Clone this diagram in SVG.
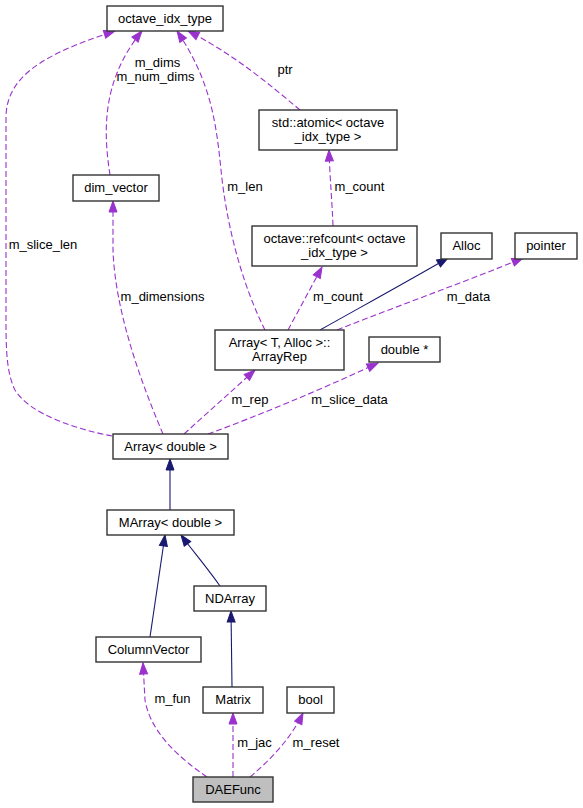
<svg xmlns="http://www.w3.org/2000/svg" width="583" height="808" viewBox="0 0 583 808">
<style>
  .n rect { fill: #ffffff; stroke: #333333; stroke-width: 1.4; }
  .n text, .lbl { font-family: "Liberation Sans", Arial, sans-serif; font-size: 13px; fill: #000000; }
  .n text { text-anchor: middle; }
  .lbl { text-anchor: middle; }
  .u { fill: none; stroke: #9a32cd; stroke-width: 1.1; stroke-dasharray: 6,3; }
  .i { fill: none; stroke: #191970; stroke-width: 1.1; }
  .u { marker-end: url(#ap); }
  .i { marker-end: url(#an); }
</style>
<defs>
  <marker id="ap" viewBox="0 0 12 9" markerWidth="12" markerHeight="9" refX="11" refY="4" orient="auto" markerUnits="userSpaceOnUse" overflow="visible">
    <path d="M0,0 L11,4 L0,8 z" fill="#9a32cd" stroke="#9a32cd" stroke-width="1" stroke-dasharray="none"/>
  </marker>
  <marker id="an" viewBox="0 0 12 9" markerWidth="12" markerHeight="9" refX="11" refY="4" orient="auto" markerUnits="userSpaceOnUse" overflow="visible">
    <path d="M0,0 L11,4 L0,8 z" fill="#191970" stroke="#191970" stroke-width="1" stroke-dasharray="none"/>
  </marker>
</defs>
<rect x="0" y="0" width="583" height="808" fill="#ffffff"/>

<g id="edges">
  <path class="u" d="M112,436 C80,430 30,415 15,390 C5,370 6,340 6,300 L6,118 C6,78 40,55 115,31"/>
  <path class="u" d="M110,175 C103,130 102,80 142,31"/>
  <path class="u" d="M265,330 C240,280 226,220 221,170 C216,120 210,80 177,31"/>
  <path class="u" d="M300,110 C270,85 235,55 188,31"/>
  <path class="u" d="M333,226 C332,200 330,180 329,150"/>
  <path class="u" d="M288,330 L322,267"/>
  <path class="i" d="M320,330 C370,302 410,280 448,258"/>
  <path class="u" d="M337,330 C400,305 470,280 523,258"/>
  <path class="u" d="M163,434 C140,380 115,310 113,250 L113,201"/>
  <path class="u" d="M184,434 L255,370"/>
  <path class="u" d="M208,434 C260,415 320,390 378,363"/>
  <path class="i" d="M170,510 L170,459"/>
  <path class="i" d="M150,637 L165,535"/>
  <path class="i" d="M220,586 C205,565 192,550 181,535"/>
  <path class="i" d="M232,687 L231,611"/>
  <path class="u" d="M207,777 C175,755 150,730 145,700 L143,663"/>
  <path class="u" d="M233,777 L233,713"/>
  <path class="u" d="M250,777 C270,760 290,740 303,713"/>
  <text class="lbl" x="157.5" y="67">m_dims</text>
  <text class="lbl" x="155.5" y="81">m_num_dims</text>
  <text class="lbl" x="285" y="74">ptr</text>
  <text class="lbl" x="245" y="191">m_len</text>
  <text class="lbl" x="43" y="249">m_slice_len</text>
  <text class="lbl" x="359.5" y="191">m_count</text>
  <text class="lbl" x="338" y="301">m_count</text>
  <text class="lbl" x="468.5" y="301">m_data</text>
  <text class="lbl" x="162.5" y="301">m_dimensions</text>
  <text class="lbl" x="250" y="404">m_rep</text>
  <text class="lbl" x="349.5" y="404">m_slice_data</text>
  <text class="lbl" x="172.5" y="703">m_fun</text>
  <text class="lbl" x="254.5" y="747">m_jac</text>
  <text class="lbl" x="316" y="747">m_reset</text>
</g>

<g id="node_octave_idx_type" class="n"><rect x="107" y="6" width="116" height="25"/><text x="165" y="23">octave_idx_type</text></g>
<g id="node_dim_vector" class="n"><rect x="73" y="175" width="86" height="26"/><text x="116" y="192">dim_vector</text></g>
<g id="node_std_atomic" class="n"><rect x="259" y="110" width="138" height="40"/><text x="328" y="127">std::atomic&lt; octave</text><text x="328" y="141">_idx_type &gt;</text></g>
<g id="node_refcount" class="n"><rect x="252" y="226" width="165" height="40"/><text x="334.5" y="243">octave::refcount&lt; octave</text><text x="334.5" y="257">_idx_type &gt;</text></g>
<g id="node_Alloc" class="n"><rect x="441" y="233" width="51" height="26"/><text x="466.5" y="250">Alloc</text></g>
<g id="node_pointer" class="n"><rect x="515" y="233" width="62" height="26"/><text x="546" y="250">pointer</text></g>
<g id="node_ArrayRep" class="n"><rect x="215" y="330" width="129" height="40"/><text x="279.5" y="347">Array&lt; T, Alloc &gt;::</text><text x="279.5" y="361">ArrayRep</text></g>
<g id="node_double_ptr" class="n"><rect x="369" y="337" width="71" height="25"/><text x="404.5" y="354">double *</text></g>
<g id="node_Array_double" class="n"><rect x="113" y="434" width="115" height="25"/><text x="170.5" y="451">Array&lt; double &gt;</text></g>
<g id="node_MArray_double" class="n"><rect x="107" y="510" width="127" height="25"/><text x="170.5" y="527">MArray&lt; double &gt;</text></g>
<g id="node_NDArray" class="n"><rect x="194" y="586" width="72" height="25"/><text x="230" y="603">NDArray</text></g>
<g id="node_ColumnVector" class="n"><rect x="96" y="637" width="105" height="25"/><text x="148.5" y="654">ColumnVector</text></g>
<g id="node_Matrix" class="n"><rect x="203" y="687" width="60" height="26"/><text x="233" y="704">Matrix</text></g>
<g id="node_bool" class="n"><rect x="287" y="687" width="47" height="26"/><text x="310.5" y="704">bool</text></g>
<g id="node_DAEFunc" class="n"><rect x="193" y="777" width="80" height="25" style="fill:#bfbfbf"/><text x="233" y="794">DAEFunc</text></g>
</svg>
